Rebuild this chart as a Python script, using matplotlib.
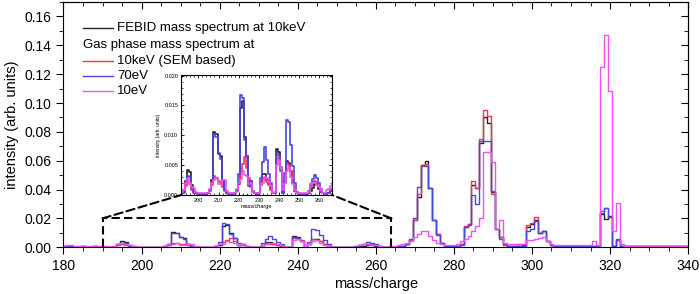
import numpy as np
import matplotlib
matplotlib.use('Agg')
import matplotlib.pyplot as plt
from matplotlib.ticker import MultipleLocator, FormatStrFormatter
from matplotlib.patches import ConnectionPatch
from matplotlib.lines import Line2D

plt.rcParams['font.family'] = ['Liberation Sans', 'DejaVu Sans']

# mass/charge bins 180..340 (unit spacing)
mass = np.arange(180, 341)

# FEBID mass spectrum at 10keV (black)
febid = [
    .0006, .0007, .0006, .0005, .0005, .0006, .0005, .0005, .0006, .0005,  # 180
    .0004, .0003, .0003, .0005, .0024, .0042, .0038, .0016, .0006, .0003,  # 190
    .0002, .0002, .0002, .0002, .0002, .0003, .0008, .0025, .0105, .0102,  # 200
    .0069, .0066, .0024, .0008, .0003, .0002, .0002, .0002, .0003, .0008,  # 210
    .0018, .0145, .0157, .0097, .0066, .0018, .0024, .0006, .0003, .0002,  # 220
    .0003, .0018, .0035, .0036, .0025, .0018, .0010, .0003, .0004, .0077,  # 230
    .0072, .0046, .0004, .0021, .0057, .0054, .0040, .0020, .0007, .0003,  # 240
    .0002, .0002, .0002, .0002, .0002, .0003, .0006, .0012, .0018, .0016,  # 250
    .0010, .0005, .0003, .0002, .0003, .0004, .0006, .0010, .0020, .0050,  # 260
    .0190, .0350, .0570, .0600, .0410, .0190, .0090, .0030, .0010, .0008,  # 270
    .0008, .0010, .0020, .0140, .0160, .0430, .0410, .0720, .0905, .0860,  # 280
    .0380, .0130, .0070, .0020, .0010, .0008, .0008, .0010, .0015, .0140,  # 290
    .0160, .0190, .0100, .0110, .0040, .0016, .0010, .0008, .0007, .0007,  # 300
    .0007, .0007, .0007, .0007, .0007, .0007, .0007, .0007, .0230, .0195,  # 310
    .0215, .0012, .0050, .0010, .0006, .0006, .0006, .0006, .0006, .0006,  # 320
    .0006, .0006, .0006, .0006, .0006, .0006, .0006, .0006, .0006, .0006,  # 330
    .0006,                                                                  # 340
]

# Gas phase 10keV (SEM based) (red)
gas_10kev = [
    .0006, .0007, .0006, .0005, .0005, .0006, .0005, .0005, .0006, .0005,  # 180
    .0004, .0003, .0003, .0004, .0015, .0022, .0018, .0008, .0004, .0003,  # 190
    .0002, .0002, .0002, .0002, .0002, .0003, .0006, .0017, .0032, .0028,  # 200
    .0024, .0020, .0013, .0006, .0003, .0002, .0002, .0002, .0003, .0006,  # 210
    .0020, .0038, .0052, .0063, .0046, .0029, .0014, .0005, .0003, .0002,  # 220
    .0003, .0017, .0028, .0026, .0022, .0016, .0009, .0003, .0004, .0062,  # 230
    .0060, .0047, .0008, .0020, .0054, .0050, .0040, .0025, .0008, .0003,  # 240
    .0002, .0002, .0002, .0002, .0002, .0003, .0015, .0022, .0024, .0020,  # 250
    .0014, .0006, .0003, .0002, .0003, .0004, .0006, .0010, .0020, .0050,  # 260
    .0190, .0370, .0565, .0580, .0410, .0190, .0090, .0030, .0010, .0008,  # 270
    .0008, .0010, .0020, .0145, .0160, .0460, .0410, .0750, .0950, .0910,  # 280
    .0370, .0130, .0070, .0020, .0010, .0008, .0008, .0020, .0020, .0154,  # 290
    .0170, .0210, .0100, .0110, .0040, .0016, .0010, .0008, .0007, .0007,  # 300
    .0007, .0007, .0007, .0007, .0007, .0007, .0007, .0007, .0250, .0270,  # 310
    .0210, .0012, .0050, .0010, .0006, .0006, .0006, .0006, .0006, .0006,  # 320
    .0006, .0006, .0006, .0006, .0006, .0006, .0006, .0006, .0006, .0006,  # 330
    .0006,                                                                  # 340
]

# Gas phase 70eV (blue)
gas_70ev = [
    .0006, .0007, .0006, .0005, .0005, .0006, .0005, .0005, .0006, .0005,  # 180
    .0004, .0003, .0003, .0005, .0022, .0032, .0030, .0012, .0005, .0003,  # 190
    .0002, .0002, .0002, .0002, .0002, .0003, .0008, .0020, .0102, .0097,  # 200
    .0071, .0060, .0024, .0008, .0003, .0002, .0002, .0002, .0003, .0008,  # 210
    .0035, .0168, .0162, .0092, .0066, .0015, .0024, .0006, .0003, .0002,  # 220
    .0003, .0029, .0055, .0080, .0058, .0035, .0020, .0004, .0004, .0070,  # 230
    .0066, .0040, .0004, .0037, .0126, .0122, .0083, .0049, .0020, .0005,  # 240
    .0002, .0002, .0002, .0002, .0002, .0006, .0018, .0026, .0033, .0028,  # 250
    .0020, .0010, .0004, .0002, .0003, .0004, .0006, .0010, .0022, .0060,  # 260
    .0200, .0420, .0570, .0560, .0410, .0190, .0085, .0030, .0008, .0008,  # 270
    .0008, .0010, .0018, .0140, .0155, .0360, .0300, .0740, .0740, .0740,  # 280
    .0390, .0130, .0060, .0015, .0010, .0008, .0008, .0010, .0012, .0110,  # 290
    .0130, .0180, .0100, .0110, .0040, .0015, .0010, .0008, .0007, .0007,  # 300
    .0007, .0007, .0007, .0007, .0007, .0007, .0007, .0007, .0240, .0270,  # 310
    .0210, .0010, .0060, .0010, .0006, .0006, .0006, .0006, .0006, .0006,  # 320
    .0006, .0006, .0006, .0006, .0006, .0006, .0006, .0006, .0006, .0006,  # 330
    .0006,                                                                  # 340
]

# Gas phase 10eV (magenta)
gas_10ev = [
    .0012, .0016, .0015, .0010, .0008, .0010, .0012, .0010, .0008, .0010,  # 180
    .0010, .0006, .0005, .0008, .0020, .0027, .0020, .0014, .0012, .0005,  # 190
    .0003, .0003, .0003, .0003, .0003, .0003, .0010, .0020, .0025, .0027,  # 200
    .0018, .0018, .0025, .0025, .0006, .0003, .0003, .0003, .0003, .0010,  # 210
    .0020, .0026, .0040, .0034, .0032, .0019, .0020, .0006, .0003, .0003,  # 220
    .0003, .0018, .0020, .0030, .0028, .0022, .0015, .0004, .0005, .0050,  # 230
    .0058, .0045, .0008, .0020, .0040, .0047, .0030, .0018, .0008, .0004,  # 240
    .0003, .0003, .0003, .0003, .0003, .0005, .0018, .0020, .0020, .0017,  # 250
    .0015, .0008, .0004, .0004, .0008, .0010, .0015, .0020, .0030, .0045,  # 260
    .0070, .0095, .0110, .0110, .0080, .0050, .0030, .0020, .0015, .0015,  # 270
    .0015, .0025, .0040, .0060, .0075, .0110, .0150, .0200, .0660, .0660,  # 280
    .0590, .0130, .0190, .0030, .0020, .0020, .0020, .0020, .0020, .0050,  # 290
    .0050, .0055, .0065, .0070, .0040, .0020, .0015, .0015, .0015, .0015,  # 300
    .0015, .0015, .0015, .0015, .0015, .0015, .0045, .0015, .1250, .1470,  # 310
    .1085, .0110, .0310, .0025, .0012, .0012, .0012, .0012, .0012, .0012,  # 320
    .0012, .0012, .0012, .0012, .0012, .0012, .0012, .0012, .0012, .0012,  # 330
    .0012,                                                                  # 340
]

labels = ['FEBID mass spectrum at 10keV', '10keV (SEM based)', '70eV', '10eV']
colors = ['#222222', '#f5325a', '#4848e0', '#f050f0']
series = [febid, gas_10kev, gas_70ev, gas_10ev]

# zoomed region
zoom_x = (190, 264)
zoom_top = 0.02

fig = plt.figure(figsize=(7.0, 2.94), dpi=100)
ax = fig.add_axes([0.0907, 0.159, 0.8923, 0.834])

for y, c in zip(series, colors):
    ax.plot(mass, y, drawstyle='steps-mid', color=c, lw=1.0)

ax.set_xlim(180, 340)
ax.set_ylim(0, 0.17)
ax.xaxis.set_major_locator(MultipleLocator(20))
ax.xaxis.set_minor_locator(MultipleLocator(5))
ax.yaxis.set_major_locator(MultipleLocator(0.02))
ax.yaxis.set_minor_locator(MultipleLocator(0.01))
ax.yaxis.set_major_formatter(FormatStrFormatter('%.2f'))
ax.tick_params(which='both', direction='out', labelsize=10)
ax.tick_params(which='major', length=5)
ax.tick_params(which='minor', length=3)
ax.set_xlabel('mass/charge', fontsize=10.5, labelpad=3)
ax.set_ylabel('intensity (arb. units)', fontsize=10.5, labelpad=4)

# mirrored ticks pointing inward on top/right
for sec in (ax.secondary_xaxis('top'), ax.secondary_yaxis('right')):
    sec.tick_params(which='both', direction='in', labeltop=False, labelright=False)
    sec.tick_params(which='major', length=5)
    sec.tick_params(which='minor', length=3)
top = ax.child_axes[0]
top.xaxis.set_major_locator(MultipleLocator(20))
top.xaxis.set_minor_locator(MultipleLocator(5))
top.set_xticklabels([])
right = ax.child_axes[1]
right.yaxis.set_major_locator(MultipleLocator(0.02))
right.yaxis.set_minor_locator(MultipleLocator(0.01))
right.set_yticklabels([])

# legend drawn by hand (one row has no line)
rows_y = [0.893, 0.826, 0.761, 0.698, 0.638]
row_items = [(labels[0], colors[0]), ('Gas phase mass spectrum at', None),
             (labels[1], colors[1]), (labels[2], colors[2]), (labels[3], colors[3])]
for yy, (txt, c) in zip(rows_y, row_items):
    if c is None:
        ax.text(0.031, yy, txt, transform=ax.transAxes, va='center', ha='left', fontsize=9.5)
    else:
        ax.add_line(Line2D([0.031, 0.079], [yy, yy], transform=ax.transAxes, color=c, lw=1.0))
        ax.text(0.086, yy, txt, transform=ax.transAxes, va='center', ha='left', fontsize=9.5)

# dashed box around the zoomed region
ax.plot([zoom_x[0], zoom_x[0], zoom_x[1], zoom_x[1]], [0, zoom_top, zoom_top, 0],
        color='black', ls=(0, (4, 2)), lw=1.5)

# inset
axins = fig.add_axes([0.2586, 0.3367, 0.2157, 0.408])
for y, c in zip(series, colors):
    axins.plot(mass, y, drawstyle='steps-mid', color=c, lw=1.2)
axins.set_xlim(191.4, 266.3)
axins.set_ylim(0, 0.0201)
axins.xaxis.set_major_locator(MultipleLocator(10))
axins.xaxis.set_minor_locator(MultipleLocator(2))
axins.yaxis.set_major_locator(MultipleLocator(0.005))
axins.yaxis.set_minor_locator(MultipleLocator(0.001))
axins.yaxis.set_major_formatter(FormatStrFormatter('%.3f'))
axins.tick_params(which='both', direction='in', top=True, right=True, labelsize=4, pad=2)
axins.tick_params(which='major', length=2.5, width=0.6)
axins.tick_params(which='minor', length=1.5, width=0.5)
axins.set_xlabel('mass/charge', fontsize=4, labelpad=1)
axins.set_ylabel('intensity (arb. units)', fontsize=3.5, labelpad=2)
for s in axins.spines.values():
    s.set_linewidth(0.8)

for xa, xb in ((zoom_x[0], 0), (zoom_x[1], 1)):
    con = ConnectionPatch(xyA=(xa, zoom_top), coordsA=ax.transData,
                          xyB=(xb, 0), coordsB=axins.transAxes,
                          color='black', ls=(0, (4, 2)), lw=1.5)
    fig.add_artist(con)

fig.savefig('out.png', dpi=100)
